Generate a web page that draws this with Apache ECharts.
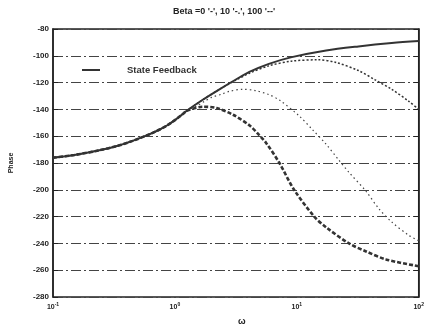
<!DOCTYPE html>
<html>
<head>
<meta charset="utf-8">
<script src="https://cdn.jsdelivr.net/npm/echarts@6/dist/echarts.min.js"></script>
<style>
  html, body { margin: 0; padding: 0; background: #fff; }
  #chart { width: 427px; height: 331px; }
</style>
</head>
<body>
<div id="chart"></div>
<script>
// shared low-frequency part of every curve
const freqCommon = [0.1, 0.15, 0.24, 0.33, 0.45, 0.62, 0.75, 0.86, 1.0, 1.16, 1.25];
const phaseCommon = [-176, -174, -170.5, -167.5, -163.5, -158.5, -155, -152, -148, -143.5, -141];

// state feedback (solid)
const freqA = [1.68, 2.32, 3.19, 4.08, 5.9, 9.1, 17.4, 32, 60, 100];
const phaseA = [-133, -125, -117.5, -112, -106, -101, -96, -93, -90.5, -89];

const freqB = [1.68, 2.32, 3.19, 4.08, 5.9, 9, 15, 21, 32, 44, 60, 83, 100];
const phaseB = [-133, -125, -118, -113, -107.5, -104, -103, -105, -111, -118, -125, -134, -140];

const freqC = [1.5, 1.75, 2.0, 2.45, 2.8, 3.6, 4.6, 5.9, 7.2, 10.5, 13.4, 17.4, 22.2, 26.8, 36.9, 47, 60, 83, 100];
const phaseC = [-137.5, -134, -131, -128.5, -126.5, -125, -126, -129, -133, -145, -155, -166, -178, -187, -201, -214, -224, -234, -238];

const freqD = [1.7, 2.2, 3.0, 4.1, 4.9, 5.6, 7.2, 9.5, 13.9, 17.4, 26.8, 37, 54, 100];
const phaseD = [-138, -139, -144, -152, -159, -165, -180, -200, -220, -228, -240, -246, -252, -257];

const yTicks = { min: -280, max: -80, step: 20 };

function pairs(f, p) {
  const all = freqCommon.concat(f);
  const vals = phaseCommon.concat(p);
  return all.map((w, i) => [w, vals[i]]);
}

const chart = echarts.init(document.getElementById("chart"));
const labelFont = { color: "#222", fontSize: 8, fontWeight: "bold", fontFamily: "Liberation Sans" };

const option = {
  animation: false,
  backgroundColor: "#fff",
  title: {
    text: "Beta =0 '-', 10 '-.', 100 '--'",
    left: 168,
    top: 2,
    textStyle: { color: "#222", fontSize: 9, fontWeight: "bold", fontFamily: "Liberation Sans" },
  },
  legend: {
    left: 77,
    top: 60,
    icon: "rect",
    itemWidth: 18,
    itemHeight: 2,
    data: ["State Feedback"],
    textStyle: { color: "#333", fontSize: 9.5, fontWeight: "bold", fontFamily: "Liberation Sans", padding: [0, 0, 0, 22] },
  },
  grid: {
    left: 53,
    right: 7,
    top: 29,
    bottom: 31,
    show: true,
    borderColor: "#222",
    borderWidth: 1.5,
  },
  xAxis: {
    type: "log",
    logBase: 10,
    min: 0.1,
    max: 100,
    name: "ω",
    nameLocation: "middle",
    nameGap: 20,
    nameTextStyle: { color: "#222", fontSize: 9, fontWeight: "bold", padding: [0, 0, 0, 12] },
    axisLine: { show: false },
    axisTick: { show: false },
    splitLine: { show: false },
    axisLabel: {
      margin: 5,
      formatter: function (v) {
        const e = Math.round(Math.log10(v));
        return "{b|10}{s|" + e + "}";
      },
      rich: {
        b: Object.assign({}, labelFont, { fontSize: 7 }),
        s: Object.assign({}, labelFont, { fontSize: 5, padding: [0, 0, 5, 0] }),
      },
    },
  },
  yAxis: [
    {
      type: "value",
      min: yTicks.min,
      max: yTicks.max,
      interval: yTicks.step,
      name: "Phase",
      nameLocation: "middle",
      nameGap: 38,
      nameTextStyle: { color: "#222", fontSize: 7, fontWeight: "bold", fontFamily: "Liberation Sans" },
      axisLine: { show: true, lineStyle: { color: "#222", width: 1.5 } },
      axisTick: { show: true, inside: true, length: 5, lineStyle: { color: "#222" } },
      axisLabel: Object.assign({ margin: 4 }, labelFont),
      splitLine: {
        show: true,
        lineStyle: { color: "#444", width: 1, type: [10, 3, 2, 3] },
      },
    },
    {
      type: "value",
      position: "right",
      min: yTicks.min,
      max: yTicks.max,
      interval: yTicks.step,
      axisLine: { show: true, lineStyle: { color: "#222", width: 1.5 } },
      axisTick: { show: true, inside: true, length: 5, lineStyle: { color: "#222" } },
      axisLabel: { show: false },
      splitLine: { show: false },
    },
  ],
  series: [
    {
      name: "Beta = 0",
      type: "line",
      data: pairs(freqD, phaseD),
      smooth: 0.3,
      showSymbol: false,
      lineStyle: { color: "#333", width: 2.6, type: [4, 2] },
    },
    {
      name: "Beta = 10",
      type: "line",
      data: pairs(freqC, phaseC),
      smooth: 0.3,
      showSymbol: false,
      lineStyle: { color: "#444", width: 1.2, type: [1.5, 3] },
    },
    {
      name: "Beta = 100",
      type: "line",
      data: pairs(freqB, phaseB),
      smooth: 0.3,
      showSymbol: false,
      lineStyle: { color: "#333", width: 1.5, type: [2, 2] },
    },
    {
      name: "State Feedback",
      type: "line",
      data: pairs(freqA, phaseA),
      smooth: 0.3,
      showSymbol: false,
      itemStyle: { color: "#333" },
      lineStyle: { color: "#333", width: 2 },
    },
  ],
};
chart.setOption(option);
</script>
</body>
</html>
